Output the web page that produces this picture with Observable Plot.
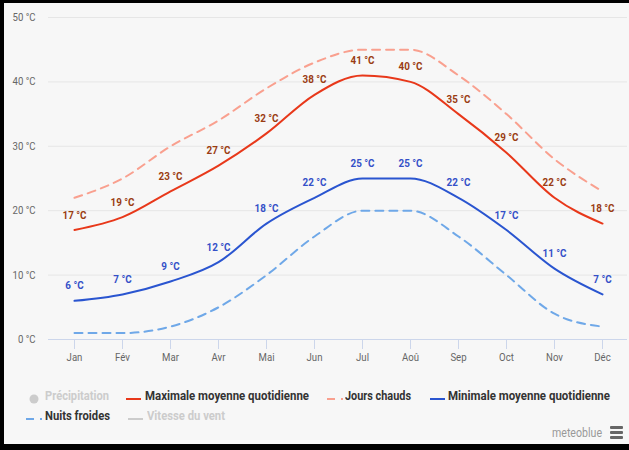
<!DOCTYPE html>
<html>
<head>
<meta charset="utf-8">
<script src="https://cdn.jsdelivr.net/npm/d3@7"></script>
<script src="https://cdn.jsdelivr.net/npm/@observablehq/plot@0.6"></script>
<style>
  html, body { margin: 0; padding: 0; }
  body { width: 629px; height: 450px; overflow: hidden; background: #f7f7f7; font-family: Roboto, "Liberation Sans", sans-serif; }
  #page { position: absolute; left: 0; top: 0; width: 629px; height: 450px; box-sizing: border-box;
    border-top: 3px solid #000; border-left: 4px solid #000; border-bottom: 6px solid #000; background: #f7f7f7; }
  #chart { position: absolute; left: 0; top: 0; }
  .leg { position: absolute; font-size: 12px; font-weight: bold; color: #333; white-space: nowrap; line-height: 14px; transform-origin: 0 50%; }
  .leg.off { color: #cccccc; }
  .sym { position: absolute; }
  #credit { position: absolute; left: 552px; top: 426px; font-size: 12px; color: #999; white-space: nowrap; line-height: 14px; transform-origin: 0 50%; }
  #burger { position: absolute; left: 610px; top: 426px; width: 13px; }
  #burger div { height: 3px; background: #666; margin-bottom: 2px; border-radius: 1px; }
</style>
</head>
<body>
<div id="page"></div>
<div id="chart"></div>
<div id="legend"></div>
<div id="credit">meteoblue</div>
<div id="burger"><div></div><div></div><div></div></div>
<script>
const months = ["Jan","Fév","Mar","Avr","Mai","Jun","Jul","Aoû","Sep","Oct","Nov","Déc"];
const maxTemp = [17, 19, 23, 27, 32, 38, 41, 40, 35, 29, 22, 18];
const hotDays = [22, 25, 30, 34, 39, 43, 45, 45, 41, 35, 28, 23];
const minTemp = [6, 7, 9, 12, 18, 22, 25, 25, 22, 17, 11, 7];
const coldNights = [1, 1, 2, 5, 10, 16, 20, 20, 16, 10, 4, 2];
const yTicks = [0, 10, 20, 30, 40, 50];
const legendLabels = ["Précipitation", "Maximale moyenne quotidienne", "Jours chauds", "Minimale moyenne quotidienne", "Nuits froides", "Vitesse du vent"];

const colors = {
  max: "#e8381a", hot: "#f9a08f", min: "#2a55d0", cold: "#6fa8e8",
  maxLabel: "#9a3c12", minLabel: "#3450c8", off: "#cccccc"
};

// legend layout: symbol start, text start, target text width, row top
const legendLayout = [
  {kind: "dot", color: colors.off, off: true, sx: 29, tx: 45, w: 64, y: 396},
  {kind: "solid", color: colors.max, sx: 126, tx: 145, w: 164, y: 396},
  {kind: "dash", color: colors.hot, sx: 327, tx: 345, w: 66, y: 396},
  {kind: "solid", color: colors.min, sx: 430, tx: 448, w: 162, y: 396},
  {kind: "dash", color: colors.cold, sx: 26, tx: 45, w: 65, y: 416},
  {kind: "solid", color: colors.off, off: true, sx: 128, tx: 147, w: 78, y: 416}
];

const rows = (arr) => months.map((m, i) => ({month: m, value: arr[i]}));
const fmt = d => `${d} °C`;

const plot = Plot.plot({
  width: 629,
  height: 380,
  marginLeft: 72,
  marginRight: 26,
  marginTop: 17,
  marginBottom: 41,
  style: {background: "transparent", fontFamily: "Roboto, \"Liberation Sans\", sans-serif", fontSize: "11px", overflow: "visible"},
  x: {type: "point", domain: months, padding: 0},
  y: {domain: [0, 50]},
  marks: [
    Plot.ruleY(yTicks.filter(d => d > 0), {stroke: "#e6e6e6", strokeWidth: 1, insetLeft: -24, insetRight: -24}),
    Plot.ruleY([0], {stroke: "#ccd6eb", strokeWidth: 1, insetLeft: -24, insetRight: -24}),
    Plot.axisY(yTicks, {tickSize: 0, tickPadding: 37, tickFormat: fmt, fill: "#666", fontSize: 11, label: null}),
    Plot.axisX({tickSize: 10, tickPadding: 4, stroke: "#ccd6eb", fill: "#666", fontSize: 11, strokeOpacity: 1, label: null}),
    Plot.line(rows(coldNights), {x: "month", y: "value", curve: "monotone-x", stroke: colors.cold, strokeWidth: 2, strokeDasharray: "8,6"}),
    Plot.line(rows(hotDays), {x: "month", y: "value", curve: "monotone-x", stroke: colors.hot, strokeWidth: 2, strokeDasharray: "8,6"}),
    Plot.line(rows(minTemp), {x: "month", y: "value", curve: "monotone-x", stroke: colors.min, strokeWidth: 2}),
    Plot.line(rows(maxTemp), {x: "month", y: "value", curve: "monotone-x", stroke: colors.max, strokeWidth: 2}),
    Plot.text(rows(maxTemp), {x: "month", y: "value", text: d => fmt(d.value), dy: -15, fill: colors.maxLabel, fontWeight: "bold", fontSize: 11}),
    Plot.text(rows(minTemp), {x: "month", y: "value", text: d => fmt(d.value), dy: -15, fill: colors.minLabel, fontWeight: "bold", fontSize: 11})
  ]
});
document.getElementById("chart").appendChild(plot);

// condense the text glyphs (reference uses a condensed face)
const texts = Array.from(plot.querySelectorAll("text"));
const find = s => texts.find(t => t.textContent === s);
const fLabel = 24 / find("17 °C").getComputedTextLength();
const fAxis = 23 / find("50 °C").getComputedTextLength();
for (const t of texts) {
  const bold = (t.getAttribute("font-weight") || (t.parentNode.getAttribute && t.parentNode.getAttribute("font-weight"))) === "bold";
  const f = bold ? fLabel : fAxis;
  const len = t.getComputedTextLength();
  t.setAttribute("textLength", (len * f).toFixed(2));
  t.setAttribute("lengthAdjust", "spacingAndGlyphs");
}

const legend = document.getElementById("legend");
legendLayout.forEach((it, i) => {
  const sym = document.createElement("div");
  sym.className = "sym";
  sym.style.left = it.sx + "px";
  sym.style.top = (it.y - 6) + "px";
  if (it.kind === "dot") sym.innerHTML = `<svg width="12" height="12"><circle cx="5" cy="6" r="4.5" fill="${it.color}"/></svg>`;
  else if (it.kind === "dash") sym.innerHTML = `<svg width="16" height="12"><line x1="0" x2="16" y1="6" y2="6" stroke="${it.color}" stroke-width="2" stroke-dasharray="8,6"/></svg>`;
  else sym.innerHTML = `<svg width="16" height="12"><line x1="0" x2="15" y1="6" y2="6" stroke="${it.color}" stroke-width="2"/></svg>`;
  legend.appendChild(sym);
  const el = document.createElement("div");
  el.className = "leg" + (it.off ? " off" : "");
  el.textContent = legendLabels[i];
  el.style.left = it.tx + "px";
  el.style.top = (it.y - 7) + "px";
  legend.appendChild(el);
  const w = el.getBoundingClientRect().width;
  el.style.transform = `scaleX(${it.w / w})`;
});
const credit = document.getElementById("credit");
credit.style.transform = `scaleX(${50 / credit.getBoundingClientRect().width})`;
</script>
</body>
</html>
